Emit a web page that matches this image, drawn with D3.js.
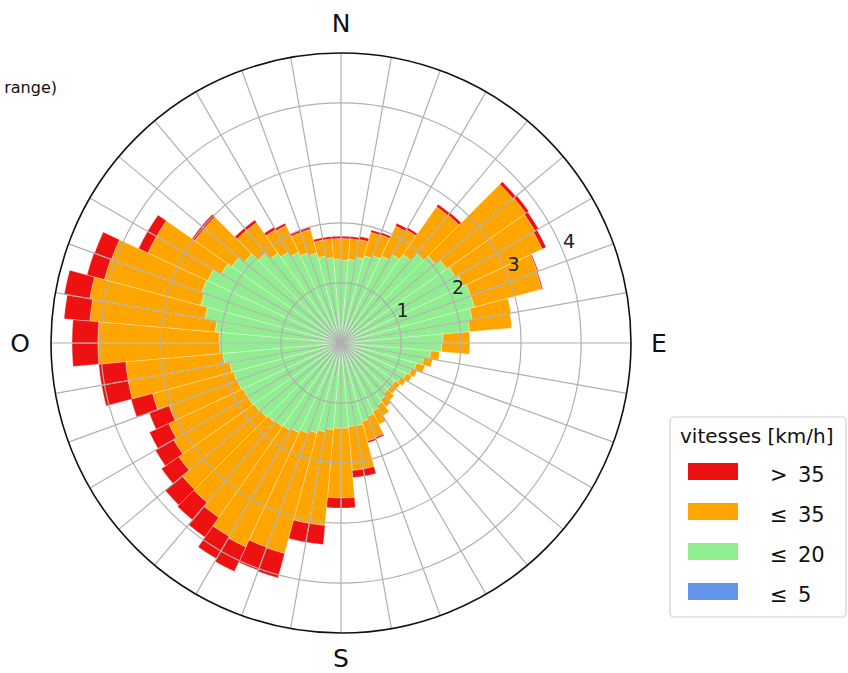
<!DOCTYPE html>
<html>
<head>
<meta charset="utf-8">
<script src="https://cdn.jsdelivr.net/npm/d3@7/dist/d3.min.js"></script>
<style>
body { margin: 0; background: #fff; }
svg { font-family: "DejaVu Sans", sans-serif; }
</style>
</head>
<body>
<div id="rose"></div>
<script>
var width = 848,
    height = 673;

// secteurs de 5 degres (debut du secteur, sens horaire depuis le nord)
var directions = [0, 5, 10, 15, 20, 25, 30, 35, 40, 45, 50, 55, 60, 65, 70, 75, 80, 85,
    90, 95, 100, 105, 110, 115, 120, 125, 130, 135, 140, 145, 150, 155, 160, 165, 170, 175,
    180, 185, 190, 195, 200, 205, 210, 215, 220, 225, 230, 235, 240, 245, 250, 255, 260, 265,
    270, 275, 280, 285, 290, 295, 300, 305, 310, 315, 320, 325, 330, 335, 340, 345, 350, 355];

// frequences par classe de vitesse
var vit5 = [0.03, 0.03, 0.03, 0.03, 0.03, 0.03, 0.03, 0.03, 0.03, 0.03, 0.03, 0.03, 0.03, 0.03, 0.03, 0.03, 0.03, 0.03,
    0.03, 0.03, 0.03, 0.03, 0.03, 0.03, 0.03, 0.03, 0.03, 0.03, 0.03, 0.03, 0.03, 0.03, 0.03, 0.03, 0.03, 0.03,
    0.03, 0.03, 0.03, 0.03, 0.03, 0.03, 0.03, 0.03, 0.03, 0.03, 0.03, 0.03, 0.03, 0.03, 0.03, 0.03, 0.03, 0.03,
    0.03, 0.03, 0.03, 0.03, 0.03, 0.03, 0.03, 0.03, 0.03, 0.03, 0.03, 0.03, 0.03, 0.03, 0.03, 0.03, 0.03, 0.03];

var vit20 = [1.35, 1.37, 1.42, 1.47, 1.52, 1.57, 1.67, 1.77, 1.92, 2.02, 2.12, 2.17, 2.22, 2.27, 2.27, 2.19, 2.12, 1.67,
    1.65, 1.47, 1.37, 1.27, 1.22, 1.17, 1.12, 1.07, 1.07, 1.07, 1.12, 1.17, 1.22, 1.27, 1.32, 1.37, 1.37, 1.39,
    1.39, 1.42, 1.47, 1.52, 1.57, 1.62, 1.65, 1.67, 1.69, 1.72, 1.74, 1.76, 1.77, 1.80, 1.82, 1.85, 1.94, 1.99,
    2.00, 2.07, 2.27, 2.39, 2.44, 2.42, 2.27, 2.19, 2.07, 1.92, 1.80, 1.72, 1.64, 1.57, 1.52, 1.44, 1.40, 1.37];

var vit35 = [0.36, 0.34, 0.30, 0.41, 0.37, 0.55, 0.48, 0.97, 0.83, 1.69, 1.61, 1.53, 1.45, 1.18, 1.16, 0.66, 0.71, 0.45,
    0.47, 0.15, 0.15, 0.15, 0.10, 0.10, 0.10, 0.10, 0.10, 0.15, 0.15, 0.20, 0.25, 0.37, 0.34, 0.73, 0.73, 1.16,
    1.16, 1.60, 1.55, 2.08, 2.02, 2.10, 2.04, 1.85, 1.75, 1.70, 1.53, 1.43, 1.37, 1.22, 1.40, 1.72, 1.63, 2.03,
    2.02, 2.10, 1.95, 1.66, 1.60, 1.10, 1.25, 0.75, 0.87, 0.50, 0.62, 0.43, 0.49, 0.36, 0.41, 0.27, 0.31, 0.34];

var vitPlus = [0.04, 0.04, 0.05, 0.04, 0.04, 0.05, 0.04, 0.05, 0.05, 0.06, 0.06, 0.07, 0.07, 0.02, 0.02, 0, 0, 0,
    0, 0, 0, 0, 0, 0, 0, 0, 0, 0, 0, 0, 0, 0.03, 0.03, 0.12, 0.12, 0.17,
    0.17, 0.32, 0.32, 0.42, 0.41, 0.45, 0.43, 0.40, 0.38, 0.37, 0.35, 0.35, 0.35, 0.35, 0.37, 0.45, 0.45, 0.43,
    0.43, 0.43, 0.43, 0.30, 0.30, 0.17, 0.17, 0.06, 0.06, 0.05, 0.05, 0.05, 0.04, 0.04, 0.04, 0.04, 0.04, 0.04];

var classes = ["c5", "c20", "c35", "cplus"];
var classLabels = ["≤", "≤", "≤", ">"];
var classValues = ["5", "20", "35", "35"];
var classColors = ["cornflowerblue", "lightgreen", "orange", "#ee1111"];

var radialTicks = [1, 2, 3, 4];
var compass = [["N", 0, 320], ["E", 90, 318], ["S", 180, 315], ["O", 270, 321]];

var cx = 341, cy = 343, outerR = 290;

var rows = directions.map(function(d, i) {
    return {dir: d, c5: vit5[i], c20: vit20[i], c35: vit35[i], cplus: vitPlus[i]};
});

var stacked = d3.stack().keys(classes)(rows);

var r = d3.scaleLinear().domain([0, 4.83]).range([0, outerR]);
var rad = function(deg) { return deg * Math.PI / 180; };

var svg = d3.select("#rose").append("svg")
    .attr("width", width)
    .attr("height", height);

var g = svg.append("g").attr("transform", "translate(" + cx + "," + cy + ")");

var arc = d3.arc();

g.selectAll(".layer")
    .data(stacked)
    .enter().append("g")
    .attr("class", "layer")
    .attr("fill", function(d, i) { return classColors[i]; })
    .selectAll("path")
    .data(function(d) { return d; })
    .enter().append("path")
    .attr("d", function(d) {
        return arc({
            innerRadius: r(d[0]),
            outerRadius: r(d[1]),
            startAngle: rad(d.data.dir),
            endAngle: rad(d.data.dir + 5)
        });
    })
    .attr("stroke", "#fff")
    .attr("stroke-opacity", 0.45)
    .attr("stroke-width", 0.7);

// grille par dessus les barres
g.selectAll(".ring")
    .data(radialTicks)
    .enter().append("circle")
    .attr("r", function(d) { return r(d); })
    .attr("fill", "none")
    .attr("stroke", "#b0b0b0")
    .attr("stroke-width", 1.2);

g.selectAll(".spoke")
    .data(directions.filter(function(d) { return d % 10 == 0; }))
    .enter().append("line")
    .attr("x1", 0).attr("y1", 0)
    .attr("x2", function(d) { return outerR * Math.sin(rad(d)); })
    .attr("y2", function(d) { return -outerR * Math.cos(rad(d)); })
    .attr("stroke", "#b0b0b0")
    .attr("stroke-width", 1.2);

g.append("circle")
    .attr("r", outerR)
    .attr("fill", "none")
    .attr("stroke", "#111")
    .attr("stroke-width", 1.6);

g.selectAll(".rlabel")
    .data(radialTicks)
    .enter().append("text")
    .attr("x", function(d) { return r(d) * Math.sin(rad(67.5)); })
    .attr("y", function(d) { return -r(d) * Math.cos(rad(67.5)) - 3; })
    .attr("font-size", 19)
    .attr("fill", "#222")
    .text(function(d) { return d; });

g.selectAll(".compass")
    .data(compass)
    .enter().append("text")
    .attr("x", function(d) { return d[2] * Math.sin(rad(d[1])); })
    .attr("y", function(d) { return -d[2] * Math.cos(rad(d[1])); })
    .attr("text-anchor", "middle")
    .attr("dominant-baseline", "central")
    .attr("font-size", 25)
    .attr("fill", "#111")
    .text(function(d) { return d[0]; });

// legende
var legend = svg.append("g");

legend.append("rect")
    .attr("x", 670).attr("y", 417)
    .attr("width", 176).attr("height", 200)
    .attr("rx", 4)
    .attr("fill", "#fff")
    .attr("stroke", "#d0d0d0")
    .attr("stroke-width", 1.2);

legend.append("text")
    .attr("x", 680).attr("y", 443)
    .attr("font-size", 20)
    .attr("fill", "#111")
    .text("vitesses [km/h]");

var order = [3, 2, 1, 0];
var items = legend.selectAll(".item")
    .data(order)
    .enter().append("g")
    .attr("transform", function(d, i) { return "translate(0," + (463 + i * 40) + ")"; });

items.append("rect")
    .attr("x", 688).attr("y", 0)
    .attr("width", 50).attr("height", 17)
    .attr("fill", function(d) { return classColors[d]; });

items.append("text")
    .attr("x", 770).attr("y", 19)
    .attr("font-size", 21)
    .attr("fill", "#111")
    .text(function(d) { return classLabels[d]; });

items.append("text")
    .attr("x", 798).attr("y", 19)
    .attr("font-size", 21)
    .attr("fill", "#111")
    .text(function(d) { return classValues[d]; });

// titre coupe en haut a gauche
svg.append("text")
    .attr("x", 57).attr("y", 93)
    .attr("text-anchor", "end")
    .attr("font-size", 16)
    .attr("fill", "#111")
    .text("range)");
</script>
</body>
</html>
